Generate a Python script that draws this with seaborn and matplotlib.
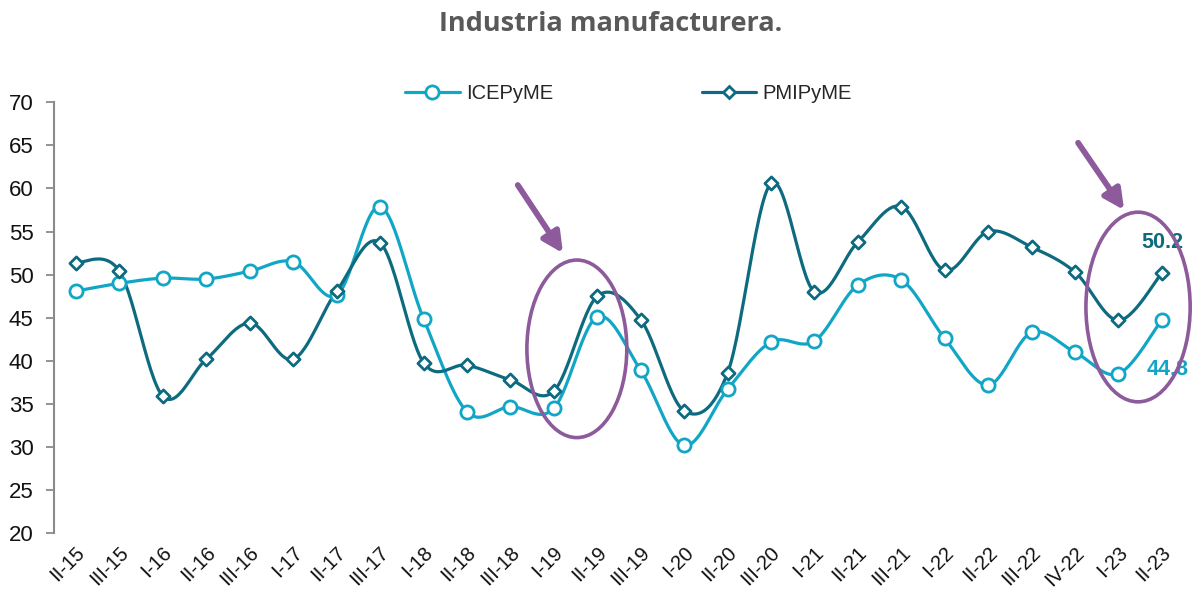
import numpy as np
import seaborn as sns
import matplotlib
matplotlib.use('Agg')
import matplotlib.pyplot as plt
from matplotlib.lines import Line2D
from matplotlib.patches import Ellipse
import matplotlib.transforms as mtransforms

# --- data ---
quarters = ["II-15", "III-15", "I-16", "II-16", "III-16", "I-17", "II-17", "III-17",
            "I-18", "II-18", "III-18", "I-19", "II-19", "III-19", "I-20", "II-20",
            "III-20", "I-21", "II-21", "III-21", "I-22", "II-22", "III-22", "IV-22",
            "I-23", "II-23"]
icepyme = [48.1, 49.0, 49.6, 49.5, 50.4, 51.5, 47.6, 57.9, 44.9, 34.1, 34.7, 34.5, 45.1,
           38.9, 30.2, 36.7, 42.2, 42.3, 48.8, 49.4, 42.6, 37.2, 43.3, 41.0, 38.5, 44.8]
pmipyme = [51.4, 50.4, 35.9, 40.2, 44.4, 40.2, 48.1, 53.7, 39.8, 39.5, 37.8, 36.5, 47.5,
           44.8, 34.2, 38.6, 60.6, 48.0, 53.8, 57.9, 50.5, 55.0, 53.2, 50.3, 44.7, 50.2]
series_names = ["ICEPyME", "PMIPyME"]

C_ICE = "#12a6c6"
C_PMI = "#0e6b7f"
C_PURPLE = "#8d5a9c"

sns.set_theme(style="white")
plt.rcParams['font.family'] = ['Liberation Sans', 'DejaVu Sans']


def excel_smooth(yv, steps=30):
    # Bezier smoothing like Excel's "smoothed line" (drawing only)
    xv = np.arange(len(yv), dtype=float)
    yv = np.asarray(yv, dtype=float)
    px = np.concatenate([[xv[0]], xv, [xv[-1]]])
    py = np.concatenate([[yv[0]], yv, [yv[-1]]])
    t = np.linspace(0, 1, steps)[:, None]
    xs, ys = [], []
    for i in range(1, len(px) - 2):
        p0 = np.array([px[i - 1], py[i - 1]])
        p1 = np.array([px[i], py[i]])
        p2 = np.array([px[i + 1], py[i + 1]])
        p3 = np.array([px[i + 2], py[i + 2]])
        c1 = p1 + (p2 - p0) / 6
        c2 = p2 - (p3 - p1) / 6
        b = ((1 - t) ** 3) * p1 + 3 * ((1 - t) ** 2) * t * c1 + 3 * (1 - t) * t ** 2 * c2 + t ** 3 * p2
        xs.extend(b[:, 0])
        ys.extend(b[:, 1])
    return np.array(xs), np.array(ys)


fig = plt.figure(figsize=(12.04, 5.93), dpi=100)
ax = fig.add_axes([0.0451, 0.1007, 0.938, 0.7268])

idx = np.arange(len(quarters))
for vals, col in [(icepyme, C_ICE), (pmipyme, C_PMI)]:
    sx, sy = excel_smooth(vals)
    sns.lineplot(x=sx, y=sy, sort=False, estimator=None, color=col, linewidth=2.3, ax=ax, zorder=2)

sns.scatterplot(x=idx, y=icepyme, marker='o', s=90, facecolor='white', edgecolor=C_ICE,
                linewidth=2.0, ax=ax, zorder=3)
sns.scatterplot(x=idx, y=pmipyme, marker='D', s=45, facecolor='white', edgecolor=C_PMI,
                linewidth=2.0, ax=ax, zorder=3)

ax.set_xlim(-0.5, len(quarters) - 0.5)
ax.set_ylim(20, 70)
ax.set_yticks(range(20, 71, 5))
ax.set_xticks(idx)
ax.set_xticklabels(quarters, rotation=45, ha='right', va='center', rotation_mode='anchor')
ax.tick_params(axis='y', length=6, width=1.3, color='#8a8a8a', labelsize=16, pad=9,
               left=True, labelcolor='#111111')
ax.tick_params(axis='x', length=0, labelsize=14.5, pad=12, labelcolor='#111111')
for lbl in ax.get_xticklabels():
    lbl.set_transform(lbl.get_transform() + mtransforms.ScaledTranslation(0.06, 0, fig.dpi_scale_trans))
for s in ["top", "right", "bottom"]:
    ax.spines[s].set_visible(False)
ax.spines["left"].set_color('#8a8a8a')
ax.spines["left"].set_linewidth(1.5)
ax.grid(False)

# last-value labels
ax.annotate(f"{pmipyme[-1]:.1f}", xy=(idx[-1], pmipyme[-1]), xytext=(0, 22),
            textcoords='offset points', ha='center', va='center', fontsize=15.5,
            fontweight='bold', color=C_PMI, annotation_clip=False)
ax.annotate(f"{icepyme[-1]:.1f}", xy=(idx[-1], icepyme[-1]), xytext=(4, -36),
            textcoords='offset points', ha='center', va='center', fontsize=15.5,
            fontweight='bold', color=C_ICE, annotation_clip=False)

# highlight ellipses and arrows
for cx, cy, w, h in [(11.53, 41.4, 2.3, 20.6), (24.45, 46.25, 2.4, 22.0)]:
    ax.add_patch(Ellipse((cx, cy), w, h, fill=False, edgecolor=C_PURPLE, linewidth=2.6,
                         clip_on=False, zorder=4))
for (x0, y0), (x1, y1) in [((10.17, 60.4), (11.21, 52.5)), ((23.07, 65.3), (24.13, 57.5))]:
    ax.annotate("", xy=(x1, y1), xytext=(x0, y0), annotation_clip=False,
                arrowprops=dict(arrowstyle="-|>,head_length=1.0,head_width=0.5",
                                color=C_PURPLE, lw=4.2, shrinkA=0, shrinkB=0))

# legend
handles = [Line2D([], [], color=C_ICE, lw=2.3, marker='o', markersize=9.5,
                  markerfacecolor='white', markeredgewidth=2.0),
           Line2D([], [], color=C_PMI, lw=2.3, marker='D', markersize=6.5,
                  markerfacecolor='white', markeredgewidth=2.0)]
fig.legend(handles, series_names, loc='center', bbox_to_anchor=(0.522, 0.843), ncol=2,
           frameon=False, fontsize=14.5, handlelength=2.7, handletextpad=0.3,
           columnspacing=7.4)

fig.text(0.507, 0.96, "Industria manufacturera.", ha='center', va='center',
         fontsize=19.5, fontweight='bold', color='#595959', family=['Open Sans', 'DejaVu Sans'])

fig.savefig("out.png", dpi=100)
